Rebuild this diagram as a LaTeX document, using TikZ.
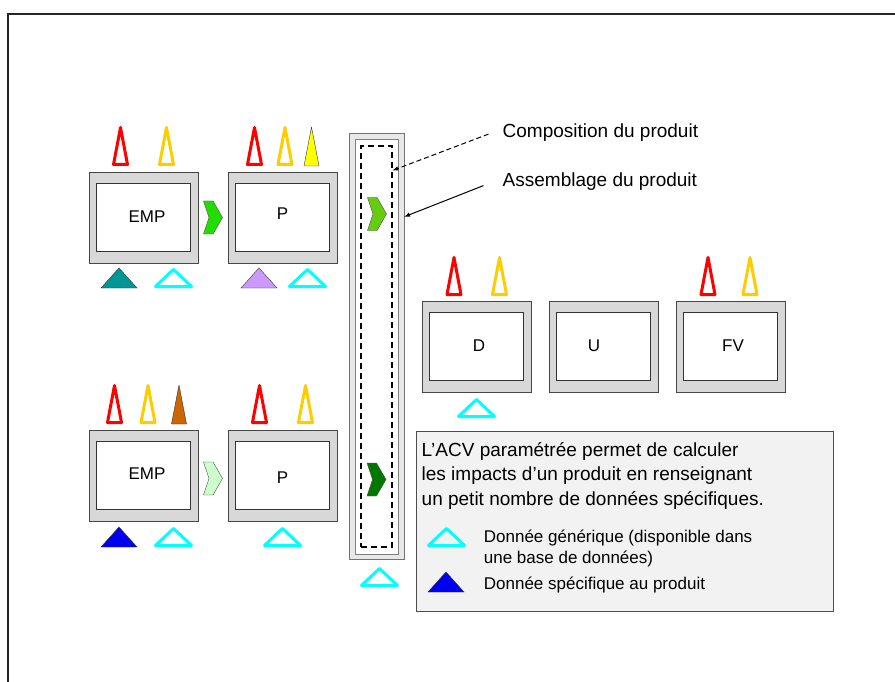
\documentclass[tikz,border=0pt]{standalone}
\usepackage{fontspec}
\setmainfont{Liberation Sans}
\usetikzlibrary{calc,arrows}
\definecolor{boxgray}{RGB}{216,216,216}
\definecolor{edgegray}{RGB}{70,70,70}
\definecolor{impred}{RGB}{255,0,0}
\definecolor{impgold}{RGB}{255,204,0}
\definecolor{impyellow}{RGB}{255,255,0}
\definecolor{impbrown}{RGB}{204,102,0}
\definecolor{datateal}{RGB}{0,150,150}
\definecolor{datapurple}{RGB}{204,153,255}
\definecolor{datablue}{RGB}{0,0,240}
\definecolor{datacyan}{RGB}{0,255,255}
\definecolor{chevbright}{RGB}{34,221,0}
\definecolor{chevpale}{RGB}{204,255,204}
\definecolor{chevlime}{RGB}{102,204,17}
\definecolor{chevdark}{RGB}{0,120,0}

\begin{document}
\begin{tikzpicture}[x=1pt, y=-1pt,
				>=latex,   %arrow tips
				outerbox/.style={draw=edgegray, fill=boxgray, minimum width=109, minimum height=91, inner sep=0pt},
				innerbox/.style={draw=black!80, fill=white, minimum width=94, minimum height=68, inner sep=0pt},
				pics/spike/.style={code={\draw[#1, line width=3, line join=round] (-7,0) -- (0,-37) -- (7,0) -- cycle;}},
				pics/fullspike/.style={code={\draw[fill=#1, draw=black!80, line join=round] (-7.5,0) -- (0,-39) -- (7.5,0) -- cycle;}},
				pics/hollowtri/.style={code={\draw[#1, line width=3, line join=round] (-18,0) -- (0,-17) -- (18,0) -- cycle;}},
				pics/fulltri/.style={code={\draw[fill=#1, draw=black!80] (-18,0) -- (0,-20) -- (18,0) -- cycle;}},
				pics/chevron/.style={code={\draw[fill=#1, draw=black!70] (-9.5,-16.5) -- (0,-16.5) -- (9.5,0) -- (0,16.5) -- (-9.5,16.5) -- (-4,0) -- cycle;}}]
	\useasboundingbox (0,0) rectangle (895,682);
	% frame
	\draw[line width=1.5, black!85] (895,14) -- (8,14) -- (8,682);
	% process boxes
	\foreach \name/\x/\y/\txt/\dx/\dy in {emp1/143.5/217.5/EMP/3.5/-1, p1/282.5/217.5/P/0/-4, emp2/143.5/475.5/EMP/3.5/-1.5, p2/282.5/475.5/P/0/2.5, d/476.5/346.5/D/2.5/-1, u/603.5/346.5/U/-9.5/-1, fv/730.5/346.5/FV/2.5/-1}
	{
		\node[outerbox] (\name) at (\x,\y) {};
		\node[innerbox] (\name in) at (\x,\y) {};
		\node[font=\fontsize{17}{20}\selectfont, inner sep=0pt] (\name txt) at ($(\name in.center)+(\dx,\dy)$) {\txt};
	}
	% assembly column
	\node[draw=black!55, fill=black!9, minimum width=55, minimum height=426, inner sep=0pt] (assy) at (376.5,346) {};
	\node[draw=black!50, fill=white, minimum width=43, minimum height=415, inner sep=0pt] (assy in) at (376.5,346.5) {};
	\node[draw, dash pattern=on 6pt off 4pt, line width=1.1, minimum width=31, minimum height=401, inner sep=0pt] (compo) at (376.5,346.5) {};
	% chevrons
	\pic at ($(emp1.east)!0.5!(p1.west)$) {chevron=chevbright};
	\pic at ($(emp2.east)!0.5!(p2.west)+(0,3)$) {chevron=chevpale};
	\pic at (377,214) {chevron=chevlime};
	\pic at (376.5,479.5) {chevron=chevdark};
	% impacts
	\foreach \x/\y/\c in {120.5/164.5/impred, 166.5/164.5/impgold, 254.5/164.5/impred, 285/164.5/impgold,
		114.5/422.5/impred, 148/422.5/impgold, 259.5/422.5/impred, 305.5/422.5/impgold,
		454/294.5/impred, 499.5/294.5/impgold, 708/294.5/impred, 750/294.5/impgold}
		\pic at (\x,\y) {spike=\c};
	\pic at (311.5,166) {fullspike=impyellow};
	\pic at (179,424) {fullspike=impbrown};
	% data
	\foreach \x/\y in {173.5/286.5, 307.5/286.5, 173.5/545.5, 282.5/545.5, 476.5/416.5, 379.5/585.5}
		\pic at (\x,\y) {hollowtri=datacyan};
	\pic at (119,288) {fulltri=datateal};
	\pic at (259,288) {fulltri=datapurple};
	\pic at (119,547) {fulltri=datablue};
	% labels
	\node[anchor=base west, inner sep=0pt, font=\fontsize{19}{23}\selectfont] (compo label) at (502.5,137.5) {Composition du produit};
	\node[anchor=base west, inner sep=0pt, font=\fontsize{19}{23}\selectfont] (assy label) at (502.5,186.5) {Assemblage du produit};
	\draw[->, line width=1, dash pattern=on 5pt off 3pt] ($(compo label.west)+(-14,1.5)$) -- ($(compo.north east)+(0,25)$);
	\draw[->, line width=1] ($(assy label.west)+(-19,4)$) -- ($(assy.north east)+(0,84)$);
	% info box
	\node[draw=black!70, fill=black!5, minimum width=417, minimum height=180, inner sep=0pt] (info) at (624.5,521) {};
	\node[anchor=north west, inner sep=0pt, align=left, font=\fontsize{19}{24.5}\selectfont] (info text) at (421.5,442) {L’ACV paramétrée permet de calculer\\les impacts d’un produit en renseignant\\un petit nombre de données spécifiques.};
	\pic at (446.5,545.5) {hollowtri=datacyan};
	\pic at (446,592) {fulltri=datablue};
	\node[anchor=north west, inner sep=0pt, align=left, font=\fontsize{17}{21}\selectfont] (generic) at (483.7,529.5) {Donnée générique (disponible dans\\une base de données)};
	\node[anchor=base west, inner sep=0pt, font=\fontsize{17}{21}\selectfont] (specific) at (483.7,589) {Donnée spécifique au produit};
\end{tikzpicture}
\end{document}
